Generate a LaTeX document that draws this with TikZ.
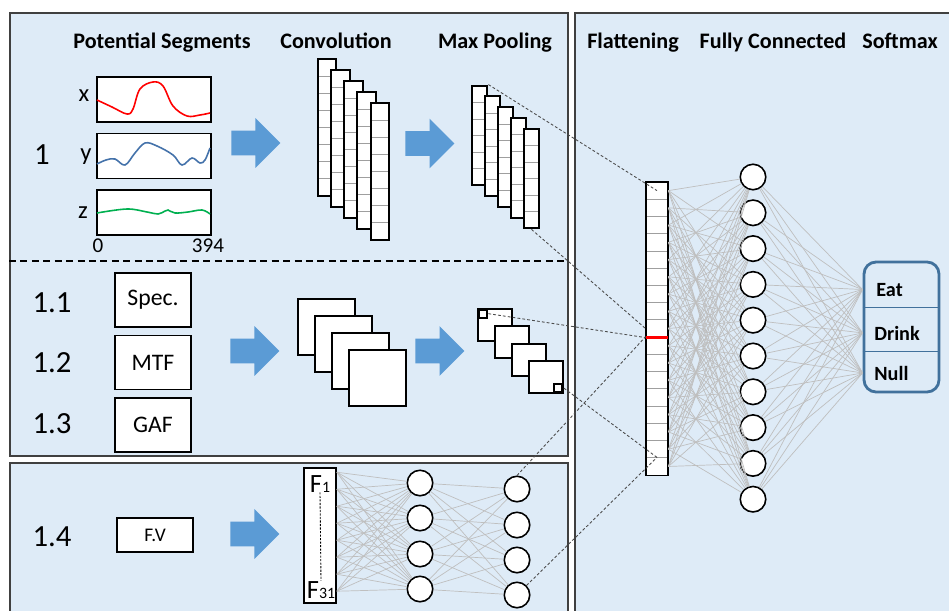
\documentclass[tikz,border=0pt]{standalone}
\usepackage{fontspec}
\setmainfont{Carlito}
\usepackage{xcolor}
\usepackage{tikz}
\usetikzlibrary{arrows.meta,positioning,shapes.arrows,fit,calc}

\definecolor{panelbg}{RGB}{222,235,247}
\definecolor{panelline}{RGB}{64,64,64}
\definecolor{arrowblue}{RGB}{91,155,213}
\definecolor{softblue}{RGB}{65,113,156}
\definecolor{sigblue}{RGB}{68,114,170}
\definecolor{siggreen}{RGB}{0,176,80}

\begin{document}
\begin{tikzpicture}[x=0.02cm, y=-0.02cm,
panel/.style={draw=panelline, fill=panelbg, line width=1.1pt, anchor=north west, inner sep=0},
colhead/.style={font=\fontsize{12.6}{14}\selectfont\bfseries, anchor=base, inner sep=0},
idx/.style={font=\fontsize{17.5}{19}\selectfont, anchor=base, inner sep=0},
axislabel/.style={font=\fontsize{14}{16}\selectfont, anchor=base, inner sep=0},
ticklabel/.style={font=\fontsize{12}{14}\selectfont, anchor=base, inner sep=0},
sigbox/.style={draw, fill=white, line width=0.9pt, minimum width=22.8mm, minimum height=9mm, inner sep=0},
featbox/.style={draw, fill=white, line width=0.9pt, minimum width=15.2mm, minimum height=10.8mm, font=\fontsize{13.5}{15}\selectfont},
bigarrow/.style={single arrow, fill=arrowblue, inner sep=0, text height=4.8mm, text depth=0pt, minimum height=9.8mm, single arrow head extend=2.5mm, anchor=tail},
cell/.style={draw=gray!75, fill=white, line width=0.5pt, inner sep=0},
colframe/.style={draw, line width=1.1pt, inner sep=0},
sheet/.style={draw, fill=white, line width=1.1pt, anchor=north west, inner sep=0},
cornermark/.style={draw, fill=white, line width=1.6pt, minimum size=1.7mm, inner sep=0},
neuron/.style={circle, draw, fill=white, line width=0.9pt, minimum size=5.1mm, inner sep=0},
wire/.style={draw=black!25, line width=0.4pt},
link/.style={draw=black!70, dash pattern=on 1.6pt off 1.2pt, line width=0.5pt},
outbox/.style={draw=softblue, line width=1.6pt, rounded corners=2.4mm, minimum width=15mm, minimum height=26mm, inner sep=0},
outlabel/.style={font=\fontsize{11.5}{13}\selectfont\bfseries, anchor=base west, inner sep=0}
]
\clip (0,0) rectangle (949,611);

\node[panel, minimum width=111.6mm, minimum height=88.6mm] (upper) at (9,12) {};
\node[panel, minimum width=111.6mm, minimum height=32mm] (lower) at (9,462) {};
\node[panel, minimum width=76mm, minimum height=122mm] (right) at (574,12) {};
\coordinate (sepl) at (9,261);
\coordinate (sepr) at (567,261);
\draw[line width=1.1pt, dash pattern=on 4pt off 2.5pt] (sepl) -- (sepr);

\node[colhead] (hseg) at (162,49) {Potential Segments};
\node[colhead] (hconv) at (336,49) {Convolution};
\node[colhead] (hpool) at (495,49) {Max Pooling};
\node[colhead] (hflat) at (633,49) {Flattening};
\node[colhead] (hfc) at (773,49) {Fully Connected};
\node[colhead] (hsoft) at (900,49) {Softmax};

\node[idx] (s1) at (42,165) {1};
\node[idx] (s11) at (52,312) {1.1};
\node[idx] (s12) at (52,372) {1.2};
\node[idx] (s13) at (52,433) {1.3};
\node[idx] (s14) at (52,546) {1.4};

% raw accelerometer segments
\node[sigbox] (sigx) at (154,99.5) {};
\node[sigbox, below=2mm of sigx] (sigy) {};
\node[sigbox, below=2mm of sigy] (sigz) {};
\node[axislabel] (lx) at (84,102) {x};
\node[axislabel] (ly) at (86,161) {y};
\node[axislabel] (lz) at (83,218) {z};
\node[ticklabel] (t0) at (98,252) {0};
\node[ticklabel] (t394) at (208,252) {394};
\draw[red, line width=0.9pt] plot[smooth, tension=0.6] coordinates {(97,100) (112,107) (127,114) (133,109) (140,89) (153,82) (163,86) (173,106) (187,116) (200,115) (210,113)};
\draw[sigblue, line width=0.9pt] plot[smooth, tension=0.6] coordinates {(97,164) (106,160) (115,159) (125,165) (135,153) (145,143) (157,146) (173,155) (182,165) (192,158) (200,163) (205,160) (210,148)};
\draw[siggreen, line width=0.9pt] plot[smooth, tension=0.6] coordinates {(97,213) (127,209) (147,212) (158,214) (165,211) (168,210) (175,213) (188,212) (202,210) (210,214)};

\node[bigarrow] (arr1) at (231,143) {};
\node[bigarrow] (arr2) at (405,143.5) {};
\node[bigarrow] (arr3) at (230,351) {};
\node[bigarrow] (arr4) at (415,351) {};
\node[bigarrow] (arr5) at (230,534) {};

% 1D feature maps
\foreach \k in {0,...,4} {
  \foreach \j in {1,...,8}
    \node[cell, minimum width=3.6mm, minimum height=3.425mm] (conv\k-\j) at (327+13.25*\k, 59+11*\k+17.125*\j-8.5625) {};
  \node[colframe, fit=(conv\k-1)(conv\k-8)] (conv\k) {};
}
\foreach \k in {0,...,4} {
  \foreach \j in {1,...,6}
    \node[cell, minimum width=3mm, minimum height=3.3mm] (pool\k-\j) at (479.5+13*\k, 86+10.75*\k+16.5*\j-8.25) {};
  \node[colframe, fit=(pool\k-1)(pool\k-6)] (pool\k) {};
}

% image encodings
\node[featbox] (spec) at (153,300) {Spec.};
\node[featbox, below=1.4mm of spec] (mtf) {MTF};
\node[featbox, below=1.4mm of mtf] (gaf) {GAF};
\foreach \k in {0,...,3}
  \node[sheet, minimum width=11.4mm, minimum height=11.2mm] (map\k) at (297+17*\k, 298+17*\k) {};
\foreach \k in {0,...,3}
  \node[sheet, minimum width=6.8mm, minimum height=6.4mm] (pmap\k) at (477+17*\k, 308+17.3*\k) {};
\node[cornermark, anchor=north west] (tlmark) at (pmap0.north west) {};
\node[cornermark, anchor=south east] (brmark) at (pmap3.south east) {};

% hand-crafted features
\node[featbox, minimum height=6.8mm, font=\fontsize{11}{13}\selectfont] (fv) at (155,535) {F.V};
\node[draw, fill=white, line width=0.9pt, minimum width=6.4mm, minimum height=27mm, inner sep=0] (fbox) at (320,535.5) {};
\node[font=\fontsize{15}{17}\selectfont, anchor=base, inner sep=0] (f1) at (320,492) {F{\fontsize{9}{10}\selectfont 1}};
\node[font=\fontsize{15}{17}\selectfont, anchor=base, inner sep=0] (f31) at (321,598) {F{\fontsize{9}{10}\selectfont 31}};
\draw[dash pattern=on 1.2pt off 0.8pt, line width=0.5pt] (f1.south) -- (f31.north);
\foreach \j/\y in {1/483,2/518,3/554,4/589}
  \node[neuron] (ha\j) at (420,\y) {};
\foreach \j/\y in {1/489,2/525,3/560,4/595}
  \node[neuron] (hb\j) at (517,\y) {};
\foreach \i in {1,...,8}
  \coordinate (fin\i) at ($(fbox.north east)+(0,5+17*\i-17)$);
\foreach \i in {1,...,8}
  \foreach \j in {1,...,4}
    \draw[wire] (fin\i) -- (ha\j);
\foreach \i in {1,...,4}
  \foreach \j in {1,...,4}
    \draw[wire] (ha\i) -- (hb\j);

% flattening, dense layer and output
\foreach \i in {1,...,17}
  \node[cell, minimum width=4.4mm, minimum height=3.448mm] (cell\i) at (657,182+17.24*\i-8.62) {};
\node[colframe, fit=(cell1)(cell17)] (flat) {};
\draw[red, line width=1.6pt] (cell9.south west) -- (cell9.south east);
\foreach \j in {1,...,10}
  \node[neuron] (fc\j) at (753,177+35.8*\j-35.8) {};

\node[outbox] (soft) at (901.5,327) {};
\node[outlabel] (eat) at (876,296) {Eat};
\node[outlabel] (drink) at (874,340) {Drink};
\node[outlabel] (null) at (874,380) {Null};
\draw[softblue, line width=0.6pt] ($(soft.north west)+(0,47)$) -- ($(soft.north east)+(0,47)$);
\draw[softblue, line width=0.6pt] ($(soft.north west)+(0,91)$) -- ($(soft.north east)+(0,91)$);
\coordinate (ineat) at (soft.west |- eat);
\coordinate (indrink) at (soft.west |- drink);
\coordinate (innull) at (soft.west |- null);

\foreach \i in {1,...,17}
  \foreach \j in {1,...,10} {
    \pgfmathtruncatemacro{\pick}{mod(\i+\j,2)}
    \ifnum\pick=0 \draw[wire] (cell\i.east) -- (fc\j); \fi
  }
\foreach \j in {1,...,10}
  \foreach \o in {ineat,indrink,innull}
    \draw[wire] (fc\j) -- (\o);

\draw[link] (pool0.north east) -- (cell1.center);
\draw[link] (pool4.south) -- (cell9.west);
\draw[link] (tlmark.east) -- (cell9.south west);
\draw[link] (brmark.east) -- (cell17.north);
\draw[link] (hb1.north) -- (cell10.north west);
\draw[link] (hb4.north east) -- (cell17.north);
\end{tikzpicture}
\end{document}
